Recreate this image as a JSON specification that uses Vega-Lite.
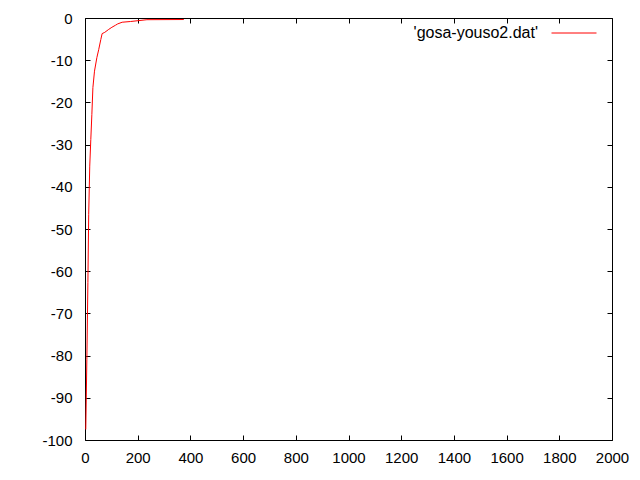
{
  "$schema": "https://vega.github.io/schema/vega-lite/v6.json",
  "width": 527,
  "height": 422,
  "autosize": {"type": "none"},
  "padding": {"left": 85, "top": 18, "right": 28, "bottom": 40},
  "background": "white",
  "config": {
    "view": {"stroke": "black", "strokeWidth": 1},
    "axis": {
      "grid": false,
      "domain": false,
      "tickColor": "black",
      "tickSize": -5,
      "tickWidth": 1,
      "labelFont": "Liberation Sans",
      "labelFontSize": 15,
      "labelColor": "black",
      "labelOverlap": false,
      "labelFlush": false,
      "title": null
    }
  },
  "data": {
    "values": [
      {"n": 3, "gosa": -97.5, "file": "'gosa-youso2.dat'"},
      {"n": 7, "gosa": -81, "file": "'gosa-youso2.dat'"},
      {"n": 11, "gosa": -62.7, "file": "'gosa-youso2.dat'"},
      {"n": 14, "gosa": -46.6, "file": "'gosa-youso2.dat'"},
      {"n": 18, "gosa": -35.1, "file": "'gosa-youso2.dat'"},
      {"n": 22, "gosa": -28.8, "file": "'gosa-youso2.dat'"},
      {"n": 26, "gosa": -22.9, "file": "'gosa-youso2.dat'"},
      {"n": 30, "gosa": -16.5, "file": "'gosa-youso2.dat'"},
      {"n": 36, "gosa": -12.6, "file": "'gosa-youso2.dat'"},
      {"n": 45, "gosa": -9.4, "file": "'gosa-youso2.dat'"},
      {"n": 52, "gosa": -7.5, "file": "'gosa-youso2.dat'"},
      {"n": 60, "gosa": -5.1, "file": "'gosa-youso2.dat'"},
      {"n": 65, "gosa": -3.7, "file": "'gosa-youso2.dat'"},
      {"n": 75, "gosa": -3.4, "file": "'gosa-youso2.dat'"},
      {"n": 90, "gosa": -2.7, "file": "'gosa-youso2.dat'"},
      {"n": 102, "gosa": -2.2, "file": "'gosa-youso2.dat'"},
      {"n": 116, "gosa": -1.7, "file": "'gosa-youso2.dat'"},
      {"n": 124, "gosa": -1.4, "file": "'gosa-youso2.dat'"},
      {"n": 141, "gosa": -1.0, "file": "'gosa-youso2.dat'"},
      {"n": 173, "gosa": -0.83, "file": "'gosa-youso2.dat'"},
      {"n": 235, "gosa": -0.4, "file": "'gosa-youso2.dat'"},
      {"n": 375, "gosa": -0.36, "file": "'gosa-youso2.dat'"}
    ]
  },
  "layer": [
    {
      "mark": {"type": "line", "strokeWidth": 1},
      "encoding": {
        "x": {
          "field": "n", "type": "quantitative",
          "scale": {"domain": [0, 2000], "nice": false, "zero": false},
          "axis": {"orient": "bottom", "values": [0, 200, 400, 600, 800, 1000, 1200, 1400, 1600, 1800, 2000], "labelPadding": 15, "labelExpr": "toString(datum.value)"}
        },
        "y": {
          "field": "gosa", "type": "quantitative",
          "scale": {"domain": [-100, 0], "nice": false, "zero": false},
          "axis": {"orient": "left", "values": [-100, -90, -80, -70, -60, -50, -40, -30, -20, -10, 0], "labelPadding": 18, "labelExpr": "toString(datum.value)"}
        },
        "color": {
          "field": "file", "type": "nominal",
          "scale": {"range": ["#ff0000"]},
          "legend": {
            "orient": "none", "legendX": 466, "legendY": -8, "title": null, "padding": 0,
            "symbolType": "stroke", "symbolSize": 2025, "symbolStrokeWidth": 1,
            "labelAlign": "right", "labelOffset": -59, "labelFont": "Liberation Sans",
            "labelFontSize": 16, "labelColor": "black", "labelLimit": 300
          }
        }
      }
    },
    {
      "mark": {"type": "line", "strokeOpacity": 0},
      "encoding": {
        "x": {
          "field": "n", "type": "quantitative",
          "axis": {"orient": "top", "labels": false, "values": [0, 200, 400, 600, 800, 1000, 1200, 1400, 1600, 1800, 2000]}
        },
        "y": {
          "field": "gosa", "type": "quantitative",
          "axis": {"orient": "right", "labels": false, "values": [-100, -90, -80, -70, -60, -50, -40, -30, -20, -10, 0]}
        }
      }
    }
  ],
  "resolve": {"axis": {"x": "independent", "y": "independent"}}
}
